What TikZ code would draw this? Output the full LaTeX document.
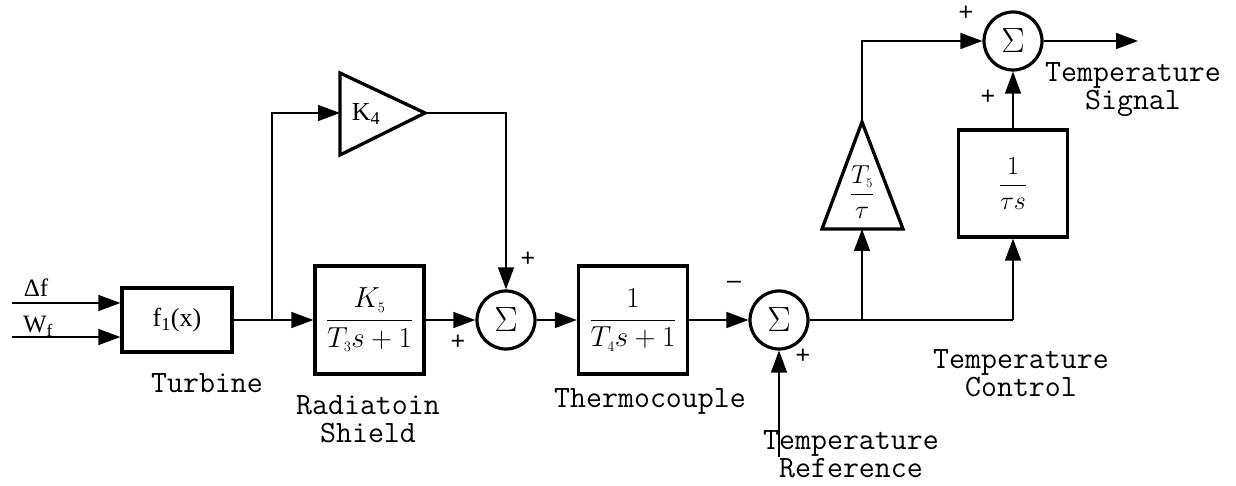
\RequirePackage{fix-cm}
\documentclass[tikz,border=0pt]{standalone}
\usepackage[no-math]{fontspec}
\setmainfont{Liberation Serif}
\newfontfamily\sansf{Liberation Sans}
\usetikzlibrary{arrows.meta}
\begin{document}
\begin{tikzpicture}[x=1pt,y=-1pt, line width=1.5pt,
  >={Triangle[length=22pt,width=16pt]},
  blk/.style={draw, line width=3.3pt, minimum width=109pt, minimum height=108pt, inner sep=0pt,
    font=\fontsize{29}{31}\selectfont},
  sumc/.style={draw, circle, line width=3.2pt, minimum size=58pt, inner sep=0pt,
    font=\fontsize{35}{36}\selectfont},
  tri/.style={draw, line width=3.3pt, line join=miter},
  lbl/.style={font=\fontsize{31}{28}\selectfont\ttfamily, align=center, inner sep=0pt},
  sgn/.style={font=\sansf\fontsize{25}{26}\selectfont, inner sep=0pt},
  txt/.style={font=\fontsize{25}{26}\selectfont, inner sep=0pt}]
\useasboundingbox (0,0) rectangle (1236,486);

% blocks
\node[blk, minimum width=110pt, minimum height=64pt, font=\fontsize{26}{28}\selectfont] (f1) at (177,320) {f\textsubscript{1}(x)};
\node[blk] (rad) at (369.5,320) {$\displaystyle\frac{K_{\scriptscriptstyle 5}}{T_{\scriptscriptstyle 3}s+1}$};
\node[sumc] (s1) at (506,320) {$\Sigma$};
\node[blk] (tc) at (633,320) {$\displaystyle\frac{1}{T_{\scriptscriptstyle 4}s+1}$};
\node[sumc] (s2) at (779,320) {$\Sigma$};
\node[sumc] (s3) at (1013,41) {$\Sigma$};
\node[blk, minimum height=107pt, font=\fontsize{26}{28}\selectfont] (int) at (1013,183.5) {$\displaystyle\frac{1}{\tau s}$};

% K4 triangle
\draw[tri] (340,73) -- (425,113) -- (340,155) -- cycle;
\coordinate (k4in) at (340,113);
\coordinate (k4out) at (425,113);
\node[txt, font=\fontsize{26}{28}\selectfont] (k4) at (366,114) {K\textsubscript{4}};

% T5/tau triangle
\draw[tri] (822,229) -- (862,122) -- (903,229) -- cycle;
\coordinate (t5in) at (862,229);
\coordinate (t5out) at (862,122);
\node[font=\fontsize{26}{28}\selectfont, inner sep=0pt] (t5) at (862,192) {$\displaystyle\frac{T_{\scriptscriptstyle 5}}{\tau}$};

% inputs
\coordinate (in1) at (12,303);
\coordinate (in2) at (12,337);
\draw[->] (in1) -- (in1 -| f1.west);
\draw[->] (in2) -- (in2 -| f1.west);
\node[txt] (df) at (36,288) {Δf};
\node[txt] (wf) at (38,326) {W\textsubscript{f}};

% wires
\coordinate (b1) at (272,320);
\draw[->] (f1.east) -- (rad.west);
\draw[->] (b1) |- (k4in);
\draw[->] (k4out) -| (s1.north);
\draw[->] (rad.east) -- (s1.west);
\draw[->] (s1.east) -- (tc.west);
\draw[->] (tc.east) -- (s2.west);
\coordinate (ref) at (779,457);
\draw[->] (ref) -- (s2.south);
\coordinate (b2) at (862,320);
\coordinate (e1) at (1013,320);
\draw (s2.east) -- (e1);
\draw[->] (b2) -- (t5in);
\draw[->] (e1) -- (int.south);
\draw[->] (t5out) |- (s3.west);
\draw[->] (int.north) -- (s3.south);
\coordinate (out) at (1138,41);
\draw[->] (s3.east) -- (out);

% signs
\node[sgn] (p1) at (528,259) {+};
\node[sgn] (p2) at (458,342) {+};
\node[sgn] (m1) at (734,285) {–};
\node[sgn] (p3) at (803,356) {+};
\node[sgn] (p4) at (966,13) {+};
\node[sgn] (p5) at (988,97) {+};

% labels
\node[lbl] (lt) at (207,383) {Turbine};
\node[lbl] (lr) at (368,419) {Radiatoin\\Shield};
\node[lbl] (lc) at (650,401) {Thermocouple};
\node[lbl] (lref) at (851,454) {Temperature\\Reference};
\node[lbl] (lctl) at (1021,373) {Temperature\\Control};
\node[lbl] (lsig) at (1133,90) {Temperature\\Signal};
\end{tikzpicture}
\end{document}
